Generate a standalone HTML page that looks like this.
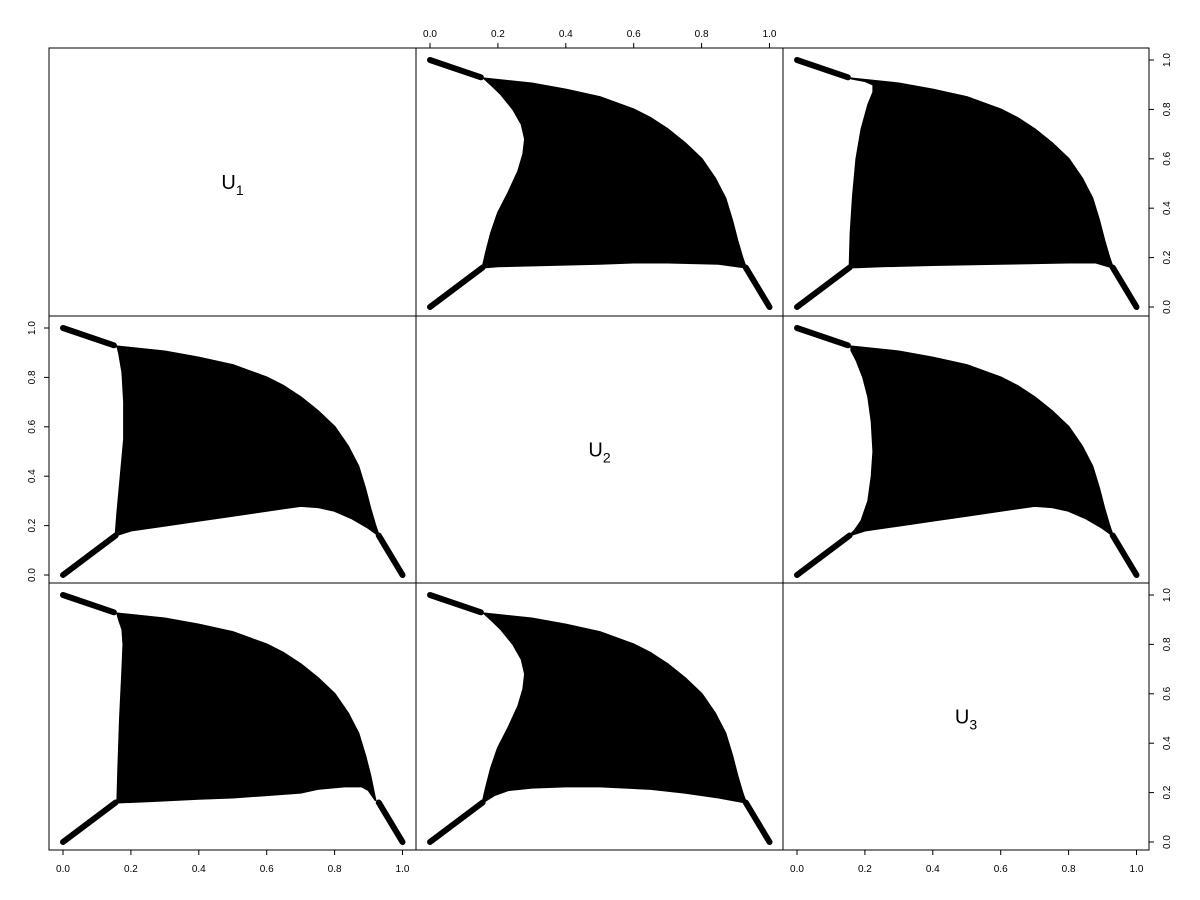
<!DOCTYPE html>
<html><head><meta charset="utf-8"><style>
html,body{margin:0;padding:0;background:#fff;}
svg{display:block;font-family:"Liberation Sans",Arial,sans-serif;}
</style></head><body>
<svg id="chart" width="1200" height="900" xmlns="http://www.w3.org/2000/svg"></svg>
<script>
// tick values
const ticks = [0, 0.2, 0.4, 0.6, 0.8, 1.0];
const tickLabels = ["0.0","0.2","0.4","0.6","0.8","1.0"];
const varLabels = ["1","2","3"];
// shared upper boundary of the cloud
const topCurve = [[0.16,0.925],[0.3,0.905],[0.4,0.88],[0.5,0.85],[0.6,0.8],[0.65,0.765],[0.7,0.72],[0.75,0.665],[0.8,0.6],[0.84,0.52],[0.87,0.44],[0.89,0.35],[0.905,0.27],[0.92,0.2],[0.93,0.16]];
// left boundaries (bottom to top) and bottom boundaries (right to left)
const left12 = [[0.155,0.16],[0.165,0.22],[0.18,0.3],[0.2,0.38],[0.23,0.46],[0.26,0.55],[0.275,0.62],[0.28,0.68],[0.27,0.74],[0.245,0.8],[0.21,0.86],[0.18,0.9]];
const bottom12 = [[0.85,0.175],[0.7,0.18],[0.6,0.18],[0.5,0.175],[0.35,0.17],[0.2,0.165]];
const left13 = [[0.155,0.16],[0.158,0.3],[0.165,0.45],[0.175,0.6],[0.19,0.72],[0.21,0.82],[0.225,0.87],[0.225,0.9],[0.2,0.915]];
const bottom13 = [[0.88,0.18],[0.8,0.18],[0.6,0.175],[0.4,0.17],[0.25,0.165]];
const left21 = [[0.155,0.16],[0.16,0.25],[0.17,0.4],[0.18,0.55],[0.18,0.7],[0.175,0.82],[0.165,0.9]];
const bottom21 = [[0.9,0.19],[0.85,0.23],[0.8,0.26],[0.75,0.275],[0.7,0.28],[0.65,0.27],[0.6,0.26],[0.5,0.24],[0.4,0.22],[0.3,0.2],[0.2,0.18]];
const left23 = [[0.155,0.16],[0.17,0.18],[0.19,0.22],[0.21,0.3],[0.22,0.4],[0.225,0.5],[0.22,0.62],[0.21,0.72],[0.195,0.8],[0.175,0.87],[0.16,0.91]];
const left31 = [[0.16,0.16],[0.163,0.3],[0.168,0.5],[0.175,0.7],[0.178,0.8],[0.175,0.86],[0.165,0.9]];
const bottom31 = [[0.92,0.17],[0.9,0.21],[0.88,0.225],[0.83,0.225],[0.75,0.215],[0.7,0.2],[0.6,0.19],[0.5,0.18],[0.4,0.175],[0.25,0.165]];
const bottom32 = [[0.85,0.18],[0.75,0.2],[0.65,0.215],[0.5,0.225],[0.4,0.225],[0.3,0.22],[0.23,0.21],[0.19,0.19]];
const regions = {
  "0-1": left12.concat(topCurve, bottom12),
  "0-2": left13.concat(topCurve, bottom13),
  "1-0": left21.concat(topCurve, bottom21),
  "1-2": left23.concat(topCurve, bottom21),
  "2-0": left31.concat(topCurve.slice(0,13), bottom31),
  "2-1": left12.concat(topCurve, bottom32)
};
// arm segments
const arms = [[[0,1],[0.15,0.93]],[[0,0],[0.155,0.16]],[[0.93,0.16],[1,0]]];

const NS="http://www.w3.org/2000/svg";
const svg=document.getElementById('chart');
const colL=[49,416,783,1149], rowT=[48,316,583,850];
const xs=(c,v)=>colL[c]+14+v*339.5;
const ys=(r,v)=>rowT[r]+259-v*247;
function mk(tag,attrs,parent){const e=document.createElementNS(NS,tag);for(const k in attrs)e.setAttribute(k,attrs[k]);(parent||svg).appendChild(e);return e;}

for(let r=0;r<3;r++)for(let c=0;c<3;c++){
  const g=mk('g',{});
  
  
  if(r===c){
    const t=mk('text',{x:(colL[c]+colL[c+1])/2,y:(rowT[r]+rowT[r+1])/2+7,'font-size':20,'text-anchor':'middle'},g);
    
    
    t.textContent='U';
    const s=mk('tspan',{'font-size':14,dy:6},t);s.textContent=varLabels[r];
  } else {
    const reg=regions[r+'-'+c];
    const p=mk('polygon',{points:reg.map(d=>xs(c,d[0])+','+ys(r,d[1])).join(' '),fill:'#000',stroke:'#000','stroke-width':2,'stroke-linejoin':'round'},g);
    
    
    arms.forEach(a=>{
      const l=mk('line',{x1:xs(c,a[0][0]),y1:ys(r,a[0][1]),x2:xs(c,a[1][0]),y2:ys(r,a[1][1]),stroke:'#000','stroke-width':6,'stroke-linecap':'round'},g);
      
      
    });
  }
  const b=mk('rect',{x:colL[c],y:rowT[r],width:colL[c+1]-colL[c],height:rowT[r+1]-rowT[r],fill:'none',stroke:'#000','stroke-width':1},g);
  
  
}
function xAxis(c,top){
  const g=mk('g',{});
  
  
  const y0=top?rowT[0]:rowT[3], d=top?-5:5;
  mk('line',{x1:xs(c,0),x2:xs(c,1),y1:y0,y2:y0,stroke:'#000'},g);
  ticks.forEach((v,i)=>{
    mk('line',{x1:xs(c,v),x2:xs(c,v),y1:y0,y2:y0+d,stroke:'#000'},g);
    const t=mk('text',{x:xs(c,v),y:top?y0-11:y0+22,'font-size':10,'text-anchor':'middle'},g);
    t.textContent=tickLabels[i];
  });
}
function yAxis(r,left){
  const g=mk('g',{});
  
  
  const x0=left?colL[0]:colL[3], d=left?-5:5;
  ticks.forEach((v,i)=>{
    mk('line',{x1:x0,x2:x0+d,y1:ys(r,v),y2:ys(r,v),stroke:'#000'},g);
    const lx=left?x0-14:x0+21;
    const t=mk('text',{x:lx,y:ys(r,v),'font-size':10,'text-anchor':'middle',transform:'rotate(-90 '+lx+' '+ys(r,v)+')'},g);
    t.textContent=tickLabels[i];
  });
}
xAxis(1,true); xAxis(0,false); xAxis(2,false);
yAxis(1,true); yAxis(0,false); yAxis(2,false);
</script>
</body></html>
